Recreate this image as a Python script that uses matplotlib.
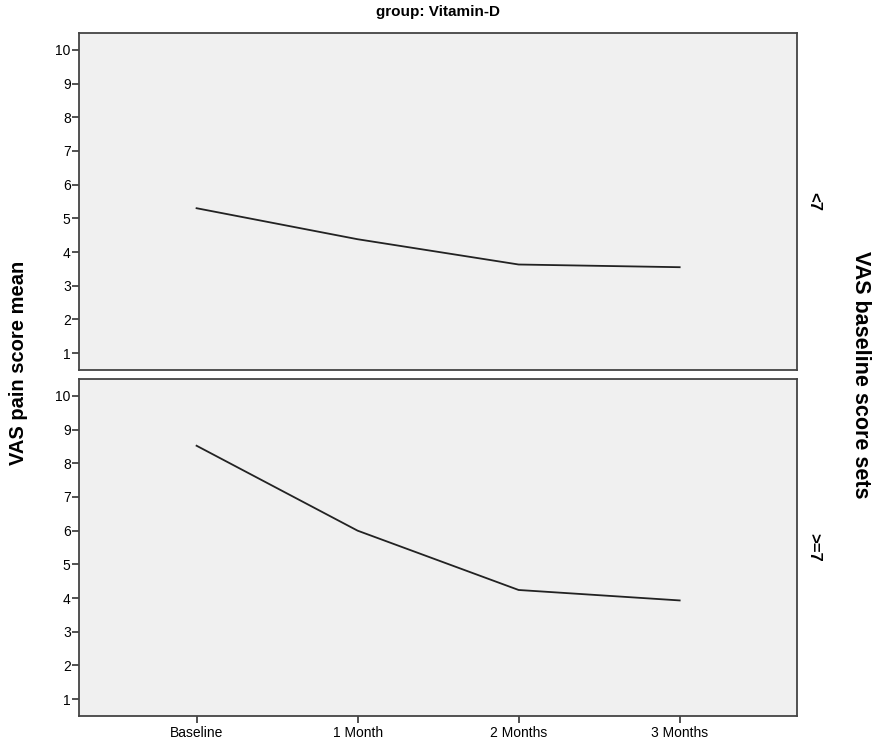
import matplotlib
matplotlib.use('Agg')
import matplotlib.pyplot as plt

plt.rcParams['font.family'] = ['Liberation Sans', 'DejaVu Sans']

time_points = ['Baseline', '1 Month', '2 Months', '3 Months']
vas_lt7 = [5.30, 4.38, 3.63, 3.55]
vas_ge7 = [8.52, 6.00, 4.24, 3.93]
panel_labels = ['<7', '>=7']
y_ticks = list(range(1, 11))

fig = plt.figure(figsize=(8.78, 7.49), dpi=100)
ax_top = fig.add_axes([0.090, 0.506, 0.818, 0.450])
ax_bot = fig.add_axes([0.090, 0.044, 0.818, 0.450])

x = list(range(len(time_points)))
for ax, vals, lab in [(ax_top, vas_lt7, panel_labels[0]), (ax_bot, vas_ge7, panel_labels[1])]:
    ax.set_facecolor('#f0f0f0')
    ax.plot(x, vals, color='#222222', lw=1.3)
    ax.set_xlim(-0.73, 3.73)
    ax.set_ylim(0.5, 10.5)
    ax.set_yticks(y_ticks)
    ax.tick_params(axis='y', length=5, width=1.2, color='#333333', labelsize=10, pad=1)
    for s in ax.spines.values():
        s.set_color('#444444')
        s.set_linewidth(1.3)
    ax.text(1.012, 0.5, lab, transform=ax.transAxes, rotation=-90,
            ha='left', va='center', fontsize=12, fontweight='bold')

ax_top.set_xticks([])
ax_bot.set_xticks(x)
ax_bot.set_xticklabels(time_points)
ax_bot.tick_params(axis='x', length=5, width=1.2, color='#333333', labelsize=10, pad=2)

fig.text(0.499, 0.984, 'group: Vitamin-D', ha='center', va='center',
         fontsize=11, fontweight='bold')
fig.text(0.021, 0.515, 'VAS pain score mean', rotation=90, ha='center', va='center',
         fontsize=14.5, fontweight='bold')
fig.text(0.980, 0.5, 'VAS baseline score sets', rotation=-90, ha='center', va='center',
         fontsize=15.5, fontweight='bold')

fig.savefig('out.png', dpi=100)
